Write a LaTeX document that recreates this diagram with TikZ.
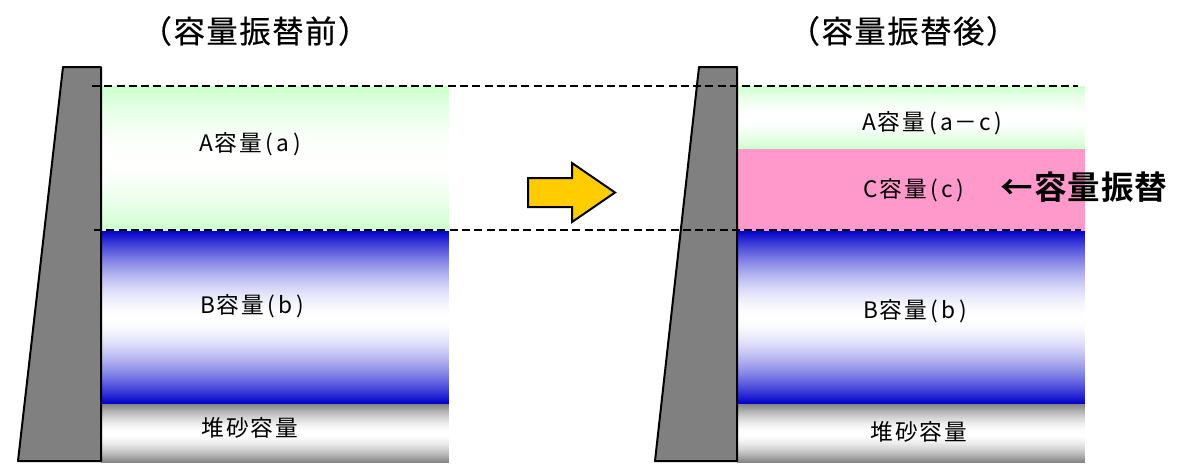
\documentclass[tikz,border=0pt]{standalone}
\usepackage{fontspec}
\setmainfont{Noto Sans CJK JP}
\newfontfamily\labeljp[LetterSpace=8]{Noto Sans CJK JP}
\newfontfamily\bigjp[LetterSpace=5,FakeBold=0.4]{Noto Sans CJK JP}
\newfontfamily\boldjp[LetterSpace=3]{Noto Sans CJK JP Bold}
\definecolor{damgray}{HTML}{808080}
\definecolor{greenend}{HTML}{CCFFCC}
\definecolor{blueend}{HTML}{0000CC}
\definecolor{pinkfill}{HTML}{FF99CC}
\definecolor{arrowfill}{HTML}{FFCC00}
% gradient band: end colour at top and bottom, white in the middle, drawn as thin strips
\newcommand{\gradband}[5]{% x1, y1, x2, y2, colour
  \pgfmathsetmacro{\bandn}{int(#4-#2)}
  \foreach \k in {1,...,\bandn}{
    \pgfmathsetmacro{\bandt}{abs(2*(\k-0.5)/\bandn-1)}
    \pgfmathsetmacro{\bandp}{100*\bandt^1.7}
    \fill[#5!\bandp!white] (#1,{#2+\k-1}) rectangle (#3,{#2+\k+0.3});
  }
}
\tikzset{
  x=0.75pt,y=-0.75pt,
  dam/.style={draw=black,line width=1.5pt,fill=damgray,line join=round},
  level/.style={draw=black,line width=1.5pt,dash pattern=on 6pt off 3.2pt},
  bandlabel/.style={font=\fontsize{17pt}{20pt}\labeljp,inner sep=0pt,text=black},
  heading/.style={font=\fontsize{23.5pt}{28pt}\bigjp,inner sep=0pt,text=black},
  shiftlabel/.style={font=\fontsize{24.4pt}{28pt}\boldjp,inner sep=0pt,text=black},
}
\begin{document}
\begin{tikzpicture}
\useasboundingbox (0,0) rectangle (1180,468);
% left bands
\gradband{101}{86}{449}{231}{greenend}
\gradband{101}{231}{449}{404}{blueend}
\gradband{101}{404}{449}{463}{damgray}
% right bands
\gradband{737}{86}{1085}{149}{greenend}
\path[fill=pinkfill] (737,149) rectangle (1085,231);
\gradband{737}{231}{1085}{404}{blueend}
\gradband{737}{404}{1085}{463}{damgray}
% dams
\draw[dam] (63,67) -- (101,67) -- (101,461) -- (18,461) -- cycle;
\draw[dam] (699,67) -- (737,67) -- (737,461) -- (655,461) -- cycle;
% levels
\coordinate (topL) at (92,86);
\coordinate (topR) at (1078,86);
\coordinate (midL) at (94,229.5);
\coordinate (midR) at (1081,229.5);
\draw[level] (topL) -- (topR);
\draw[level] (midL) -- (midR);
% arrow
\draw[draw=black,line width=1.5pt,fill=arrowfill,line join=miter] (528,178) -- (572,178) -- (572,163) -- (615,192.5) -- (572,222) -- (572,207) -- (528,207) -- cycle;
% texts
\node[heading] (titleL) at (255,31) {（容量振替前）};
\node[heading] (titleR) at (903,31) {（容量振替後）};
\node[bandlabel] (aL) at (250,144) {A容量\kern3pt(\kern2.5pt a\kern2.5pt)};
\node[bandlabel] (bL) at (252,306) {B容量\kern3pt(\kern2.5pt b\kern2.5pt)};
\node[bandlabel] (sL) at (250,428) {堆砂容量};
\node[bandlabel] (aR) at (932,123) {A容量\kern3pt(\kern2.5pt a－c\kern2.5pt)};
\node[bandlabel] (cR) at (914,190) {C容量\kern3pt(\kern2.5pt c\kern2.5pt)};
\node[bandlabel] (bR) at (915,311) {B容量\kern3pt(\kern2.5pt b\kern2.5pt)};
\node[bandlabel] (sR) at (919,432) {堆砂容量};
\node[shiftlabel] (shift) at (1084,187) {←容量振替};
\end{tikzpicture}
\end{document}
